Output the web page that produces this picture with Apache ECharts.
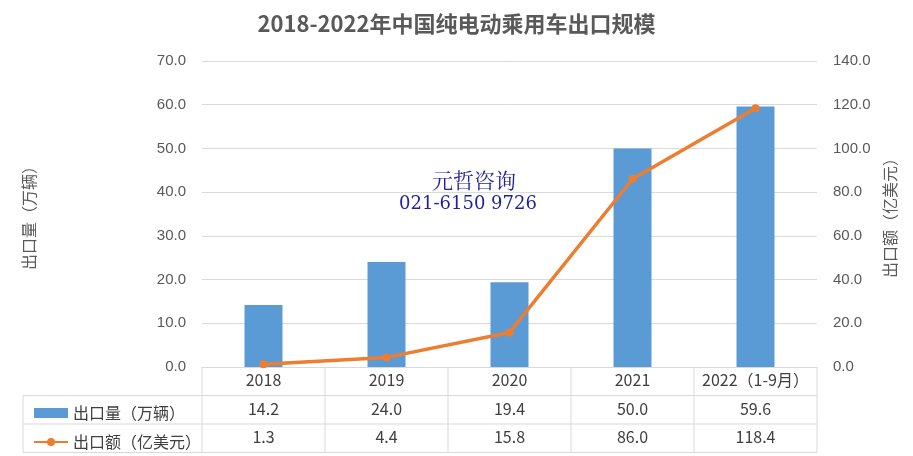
<!DOCTYPE html>
<html><head><meta charset="utf-8">
<script src="https://cdn.jsdelivr.net/npm/echarts@6/dist/echarts.min.js"></script>
<style>html,body{margin:0;padding:0;background:#fff}#c{width:913px;height:456px}</style>
</head><body><div id="c"></div>
<script>
var categories = ['2018','2019','2020','2021','2022（1-9月）'];
var volume = [14.2, 24.0, 19.4, 50.0, 59.6];
var value = [1.3, 4.4, 15.8, 86.0, 118.4];
var seriesNames = ['出口量（万辆）','出口额（亿美元）'];

var GL = 202, GR = 817, GT = 61, GB = 367, ROW = 28.5, TL = 23;
var fontCJK = '"Noto Sans CJK SC","Noto Sans",sans-serif';
var chart = echarts.init(document.getElementById('c'));

var lines = [];
var lc = {stroke:'#D9D9D9', lineWidth:1};
[1,2,3].forEach(function(i){
  lines.push({type:'line', shape:{x1:TL, y1:GB+ROW*i, x2:GR, y2:GB+ROW*i}, style:lc, silent:true});
});
var cw = (GR-GL)/categories.length;
for (var i=0;i<=categories.length;i++){
  var x = GL + cw*i;
  lines.push({type:'line', shape:{x1:x, y1:GB, x2:x, y2:GB+ROW*3}, style:lc, silent:true});
}
lines.push({type:'line', shape:{x1:TL, y1:GB+ROW, x2:TL, y2:GB+ROW*3}, style:lc, silent:true});
lines.push({type:'text', x:474, y:180, style:{text:'元哲咨询', fill:'#22229C',
  font:'21px "Noto Serif CJK SC","Noto Sans CJK SC",serif', align:'center', verticalAlign:'middle'}, z:10, silent:true});
lines.push({type:'text', x:468, y:204, style:{text:'021-6150 9726', fill:'#22229C',
  font:'18px "DejaVu Serif","Liberation Serif",serif', align:'center', verticalAlign:'middle'}, z:10, silent:true});

function hiddenAxis(data, offset){
  return {type:'category', data:data, position:'bottom', gridIndex:0, offset:offset,
    axisLine:{show:false}, axisTick:{show:false}, splitLine:{show:false},
    axisLabel:{color:'#404040', fontSize:16, fontFamily:fontCJK, margin:5, interval:0}};
}

chart.setOption({
  animation:false,
  title:{text:'2018-2022年中国纯电动乘用车出口规模', left:'center', top:8,
    textStyle:{color:'#595959', fontSize:22, fontWeight:'bold', fontFamily:fontCJK}},
  grid:{left:GL, right:913-GR, top:GT, bottom:456-GB},
  legend:{orient:'vertical', left:28, top:400, itemGap:13, itemWidth:34, itemHeight:10,
    data:[{name:seriesNames[0], icon:'rect'}, {name:seriesNames[1]}],
    textStyle:{color:'#404040', fontSize:16, fontFamily:fontCJK, lineHeight:16}},
  xAxis:[
    {type:'category', data:categories, position:'bottom',
      axisLine:{lineStyle:{color:'#D9D9D9'}}, axisTick:{show:false},
      axisLabel:{color:'#404040', fontSize:16, fontFamily:fontCJK, margin:5, interval:0}},
    hiddenAxis(volume.map(function(v){return v.toFixed(1);}), ROW),
    hiddenAxis(value.map(function(v){return v.toFixed(1);}), ROW*2)
  ],
  yAxis:[
    {type:'value', min:0, max:70, interval:10, position:'left',
      name:seriesNames[0], nameLocation:'middle', nameRotate:90, nameGap:165,
      nameTextStyle:{color:'#595959', fontSize:16, fontFamily:fontCJK},
      axisLine:{show:false}, axisTick:{show:false},
      axisLabel:{color:'#595959', fontSize:15, margin:16, formatter:function(v){return v.toFixed(1);}},
      splitLine:{lineStyle:{color:'#D9D9D9'}}},
    {type:'value', min:0, max:140, interval:20, position:'right',
      name:seriesNames[1], nameLocation:'middle', nameRotate:90, nameGap:60,
      nameTextStyle:{color:'#595959', fontSize:16, fontFamily:fontCJK},
      axisLine:{show:false}, axisTick:{show:false},
      axisLabel:{color:'#595959', fontSize:15, margin:16, formatter:function(v){return v.toFixed(1);}},
      splitLine:{show:false}}
  ],
  series:[
    {name:seriesNames[0], type:'bar', data:volume, barWidth:38, xAxisIndex:0, yAxisIndex:0,
      itemStyle:{color:'#5B9BD5'}},
    {name:seriesNames[1], type:'line', data:value, xAxisIndex:0, yAxisIndex:1,
      symbol:'circle', symbolSize:8, lineStyle:{color:'#ED7D31', width:3.5},
      itemStyle:{color:'#ED7D31'}}
  ],
  graphic:lines
});
</script></body></html>
